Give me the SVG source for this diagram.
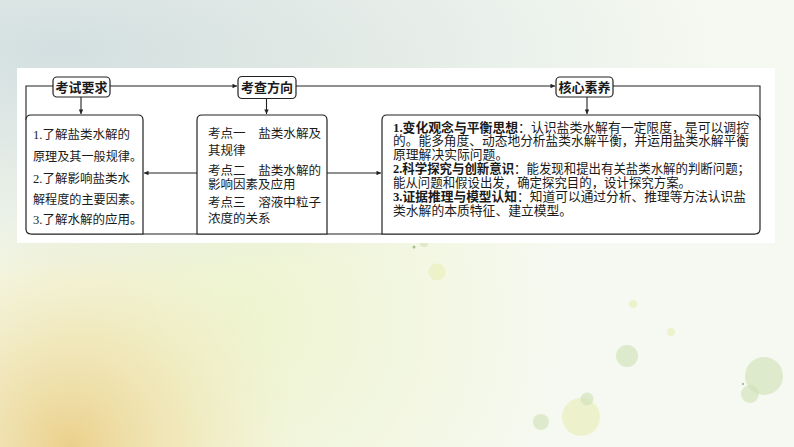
<svg xmlns="http://www.w3.org/2000/svg" width="794" height="447" viewBox="0 0 794 447">
<defs>
<style>
.ln{fill:none;stroke:#222;stroke-width:1.1}
.bx{fill:#fff;stroke:#222;stroke-width:1.2}
.t{font-family:"Liberation Serif","Noto Sans CJK SC",serif;fill:#1a1a1a}
.h{font-size:13px;font-weight:bold;text-anchor:middle}
.s1{font-size:12.5px}
.s3{font-size:12.8px}
.b{font-weight:bold}
.bub{fill:#cfe0b4;opacity:.6}
.buy{fill:#eaf0bd;opacity:.7}
</style>
<marker id="ah" viewBox="0 0 6 6" refX="6" refY="3" markerWidth="5" markerHeight="4.5" orient="auto" markerUnits="userSpaceOnUse"><path d="M0,0 L6,3 L0,6 z" fill="#222"/></marker>
<radialGradient id="gTop" cx="60" cy="50" r="420" gradientUnits="userSpaceOnUse" gradientTransform="translate(60 50) scale(1.6 0.55) translate(-60 -50)">
<stop offset="0" stop-color="#d3dfe0"/><stop offset="1" stop-color="#d3dfe0" stop-opacity="0"/></radialGradient>
<radialGradient id="gOr" cx="70" cy="447" r="230" gradientUnits="userSpaceOnUse">
<stop offset="0" stop-color="#ebd08b"/><stop offset="0.5" stop-color="#f0e0a8" stop-opacity=".6"/><stop offset="1" stop-color="#f2ecc0" stop-opacity="0"/></radialGradient>
<radialGradient id="gYg" cx="240" cy="320" r="330" gradientUnits="userSpaceOnUse">
<stop offset="0" stop-color="#eef4cf"/><stop offset="1" stop-color="#eef4cf" stop-opacity="0"/></radialGradient>
</defs>
<g id="background">
<rect width="794" height="447" fill="#f6f9f1"/>
<rect width="794" height="447" fill="url(#gYg)"/>
<rect width="794" height="447" fill="url(#gOr)"/>
<rect width="794" height="447" fill="url(#gTop)"/>
<circle class="bub" cx="424" cy="243" r="4"/>
<circle cx="414" cy="247" r="1.5" fill="#a9bf8d"/>
<circle class="buy" cx="437" cy="272" r="8.5"/>
<circle class="buy" cx="633" cy="304" r="4"/>
<circle class="buy" cx="671" cy="332" r="4"/>
<circle class="bub" cx="627" cy="356" r="11"/>
<circle class="bub" cx="764" cy="376" r="19" opacity=".45"/>
<circle class="bub" cx="750" cy="394" r="9"/>
<circle cx="743" cy="384" r="1" fill="#93a77a"/>
<circle class="buy" cx="581" cy="417" r="19"/>
<circle class="bub" cx="587" cy="399" r="6.5"/>
<circle class="bub" cx="541" cy="422" r="8"/>
<rect x="17" y="68" width="758" height="175" fill="#fff"/>
</g>
<g id="connectors">
<path class="ln" d="M53,86 H26 V120"/>
<path class="ln" d="M613,86 H760 V120"/>
<path class="ln" d="M110,86 H237" marker-end="url(#ah)"/>
<path class="ln" d="M296,86 H555" marker-end="url(#ah)"/>
<path class="ln" d="M81,97 V114" marker-end="url(#ah)"/>
<path class="ln" d="M266.5,98.5 V114" marker-end="url(#ah)"/>
<path class="ln" d="M587,97 V114" marker-end="url(#ah)"/>
<path class="ln" d="M197,173 H144" marker-end="url(#ah)"/>
<path class="ln" d="M327,173 H381" marker-end="url(#ah)"/>
<path class="ln" d="M31,234 H755"/>
</g>
<g id="node-kaoshiyaoqiu">
<rect class="bx" x="53" y="77" width="57" height="20" rx="4"/>
<text class="t h" x="81.5" y="91.5">考试要求</text>
</g>
<g id="node-kaochafangxiang">
<rect class="bx" x="238" y="76.5" width="58" height="22" rx="4"/>
<text class="t h" x="267" y="92">考查方向</text>
</g>
<g id="node-hexinsuyang">
<rect class="bx" x="556" y="77" width="57" height="20" rx="4"/>
<text class="t h" x="584.5" y="91.5">核心素养</text>
</g>
<g id="node-requirements">
<path class="bx" d="M26,120 Q26,115 31,115 H138 Q143,115 143,120 V234 H31 Q26,234 26,229 Z"/>
<text class="t s1" x="33" y="138.5">1.了解盐类水解的</text>
<text class="t s1" x="33" y="160.5" textLength="109" lengthAdjust="spacingAndGlyphs">原理及其一般规律。</text>
<text class="t s1" x="33" y="182.5">2.了解影响盐类水</text>
<text class="t s1" x="33" y="204" textLength="109" lengthAdjust="spacingAndGlyphs">解程度的主要因素。</text>
<text class="t s1" x="33" y="224">3.了解水解的应用。</text>
</g>
<g id="node-directions">
<path class="bx" d="M197,234 V120 Q197,115 202,115 H322 Q327,115 327,120 V234 Z"/>
<text class="t s1" x="208" y="138" textLength="113" lengthAdjust="spacingAndGlyphs">考点一　盐类水解及</text>
<text class="t s1" x="208" y="154.5">其规律</text>
<text class="t s1" x="208" y="174.5" textLength="113" lengthAdjust="spacingAndGlyphs">考点二　盐类水解的</text>
<text class="t s1" x="208" y="188.5">影响因素及应用</text>
<text class="t s1" x="208" y="207" textLength="113" lengthAdjust="spacingAndGlyphs">考点三　溶液中粒子</text>
<text class="t s1" x="208" y="223">浓度的关系</text>
</g>
<g id="node-literacy">
<path class="bx" d="M382,234 V120 Q382,115 387,115 H755 Q760,115 760,120 V229 Q760,234 755,234 Z"/>
<text class="t s3" x="393" y="131.5" textLength="356" lengthAdjust="spacingAndGlyphs"><tspan class="b">1.变化观念与平衡思想</tspan>：认识盐类水解有一定限度，是可以调控</text>
<text class="t s3" x="393" y="145" textLength="356" lengthAdjust="spacingAndGlyphs">的。能多角度、动态地分析盐类水解平衡，并运用盐类水解平衡</text>
<text class="t s3" x="393" y="159">原理解决实际问题。</text>
<text class="t s3" x="393" y="173" textLength="357" lengthAdjust="spacingAndGlyphs"><tspan class="b">2.科学探究与创新意识</tspan>：能发现和提出有关盐类水解的判断问题；</text>
<text class="t s3" x="393" y="186.5" textLength="298" lengthAdjust="spacingAndGlyphs">能从问题和假设出发，确定探究目的，设计探究方案。</text>
<text class="t s3" x="393" y="200.5" textLength="353" lengthAdjust="spacingAndGlyphs"><tspan class="b">3.证据推理与模型认知</tspan>：知道可以通过分析、推理等方法认识盐</text>
<text class="t s3" x="393" y="214.5">类水解的本质特征、建立模型。</text>
</g>
</svg>
